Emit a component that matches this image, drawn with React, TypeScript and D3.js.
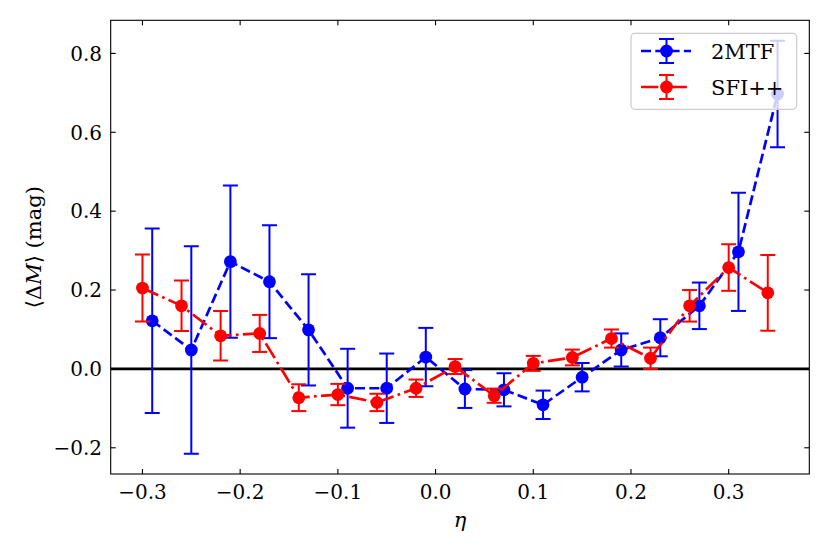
import * as d3 from "d3";
import React from "react";

// 2MTF sample
const eta2MTF = [-0.29, -0.25, -0.21, -0.17, -0.13, -0.09, -0.05, -0.01, 0.03, 0.07, 0.11, 0.15, 0.19, 0.23, 0.27, 0.31, 0.35];
const dM2MTF = [0.122, 0.048, 0.272, 0.221, 0.099, -0.049, -0.049, 0.03, -0.051, -0.053, -0.091, -0.021, 0.048, 0.079, 0.16, 0.297, 0.697];
const err2MTF = [0.234, 0.263, 0.193, 0.143, 0.141, 0.1, 0.088, 0.074, 0.048, 0.042, 0.036, 0.036, 0.042, 0.047, 0.059, 0.15, 0.135];

// SFI++ sample
const etaSFI = [-0.3, -0.26, -0.22, -0.18, -0.14, -0.1, -0.06, -0.02, 0.02, 0.06, 0.1, 0.14, 0.18, 0.22, 0.26, 0.3, 0.34];
const dMSFI = [0.205, 0.16, 0.084, 0.09, -0.073, -0.065, -0.085, -0.049, 0.006, -0.068, 0.014, 0.029, 0.077, 0.027, 0.16, 0.257, 0.193];
const errSFI = [0.085, 0.064, 0.063, 0.047, 0.034, 0.027, 0.022, 0.022, 0.019, 0.018, 0.019, 0.02, 0.023, 0.027, 0.04, 0.059, 0.096];

const xTicks = [-0.3, -0.2, -0.1, 0.0, 0.1, 0.2, 0.3];
const yTicks = [-0.2, 0.0, 0.2, 0.4, 0.6, 0.8];

const W = 830, H = 554;
const margin = { left: 110.7, right: 809.3, top: 20.3, bottom: 474 };
const font = "'DejaVu Serif', serif";

const fmt = (v: number) => {
    const s = Math.abs(v).toFixed(1);
    return v < -1e-9 ? "\u2212" + s : s;
};

interface SeriesProps {
    eta: number[];
    dm: number[];
    err: number[];
    color: string;
    dash: string;
    x: d3.ScaleLinear<number, number>;
    y: d3.ScaleLinear<number, number>;
}

function Series({ eta, dm, err, color, dash, x, y }: SeriesProps) {
    const line = d3.line<number>().x((_, i) => x(eta[i])).y(d => y(d));
    return (
        <g>
            {eta.map((e, i) => {
                const cx = x(e);
                const y1 = y(dm[i] + err[i]), y2 = y(dm[i] - err[i]);
                return (
                    <g key={i} stroke={color} strokeWidth={2}>
                        <line x1={cx} x2={cx} y1={y1} y2={y2} />
                        <line x1={cx - 7.5} x2={cx + 7.5} y1={y1} y2={y1} />
                        <line x1={cx - 7.5} x2={cx + 7.5} y1={y2} y2={y2} />
                    </g>
                );
            })}
            <path d={line(dm) || ""} fill="none" stroke={color} strokeWidth={2.7} strokeDasharray={dash} />
            {eta.map((e, i) => (
                <circle key={i} cx={x(e)} cy={y(dm[i])} r={6.4} fill={color} />
            ))}
        </g>
    );
}

export default function App() {
    const x = d3.scaleLinear().domain([-0.3325, 0.3825]).range([margin.left, margin.right]);
    const y = d3.scaleLinear().domain([-0.2665, 0.884]).range([margin.bottom, margin.top]);

    const blueDash = "10,4.3";
    const redDash = "17.3,4.3,2.7,4.3";

    const legendItems = [
        { label: "2MTF", color: "#0000ff", dash: blueDash, cy: 51 },
        { label: "SFI++", color: "#ff0000", dash: redDash, cy: 87 },
    ];

    const tickStyle = { fontFamily: font, fontSize: "20px" };
    const labelStyle = { fontFamily: font, fontSize: "21px" };
    const legendStyle = { fontFamily: font, fontSize: "21px" };

    return (
        <svg width={W} height={H} style={{ position: "absolute", left: 0, top: 0, background: "#fff" }}>
            <defs>
                <clipPath id="plotArea">
                    <rect x={margin.left} y={margin.top} width={margin.right - margin.left} height={margin.bottom - margin.top} />
                </clipPath>
            </defs>

            <g clipPath="url(#plotArea)">
                <line x1={margin.left} x2={margin.right} y1={y(0)} y2={y(0)} stroke="#000" strokeWidth={2.7} />
                <Series eta={eta2MTF} dm={dM2MTF} err={err2MTF} color="#0000ff" dash={blueDash} x={x} y={y} />
                <Series eta={etaSFI} dm={dMSFI} err={errSFI} color="#ff0000" dash={redDash} x={x} y={y} />
            </g>

            {/* frame */}
            <rect x={margin.left} y={margin.top} width={margin.right - margin.left} height={margin.bottom - margin.top}
                fill="none" stroke="#000" strokeWidth={1.1} />

            {/* x ticks */}
            {xTicks.map(t => (
                <g key={"x" + t}>
                    <line x1={x(t)} x2={x(t)} y1={margin.bottom} y2={margin.bottom - 5} stroke="#000" strokeWidth={1.1} />
                    <line x1={x(t)} x2={x(t)} y1={margin.top} y2={margin.top + 5} stroke="#000" strokeWidth={1.1} />
                    <text x={x(t)} y={margin.bottom + 25} style={tickStyle} textAnchor="middle">{fmt(t)}</text>
                </g>
            ))}

            {/* y ticks */}
            {yTicks.map(t => (
                <g key={"y" + t}>
                    <line x1={margin.left} x2={margin.left + 5} y1={y(t)} y2={y(t)} stroke="#000" strokeWidth={1.1} />
                    <line x1={margin.right} x2={margin.right - 5} y1={y(t)} y2={y(t)} stroke="#000" strokeWidth={1.1} />
                    <text x={102} y={y(t) + 7.3} style={tickStyle} textAnchor="end">{fmt(t)}</text>
                </g>
            ))}

            {/* axis labels */}
            <text x={(margin.left + margin.right) / 2} y={527} style={labelStyle} fontStyle="italic" textAnchor="middle">η</text>
            <text transform={`translate(41,${(margin.top + margin.bottom) / 2}) rotate(-90)`} style={labelStyle} textAnchor="middle">
                ⟨Δ<tspan fontStyle="italic">M</tspan>⟩ (mag)
            </text>

            {/* legend */}
            <g>
                <rect x={631} y={33.3} width={165.7} height={76} rx={4} fill="#fff" fillOpacity={0.8} stroke="#cccccc" strokeWidth={1.2} />
                {legendItems.map(it => (
                    <g key={it.label}>
                        <line x1={641} x2={691} y1={it.cy} y2={it.cy} stroke={it.color} strokeWidth={2.7} strokeDasharray={it.dash} />
                        <g stroke={it.color} strokeWidth={2}>
                            <line x1={666.5} x2={666.5} y1={it.cy - 12} y2={it.cy + 12} />
                            <line x1={659} x2={674} y1={it.cy - 12} y2={it.cy - 12} />
                            <line x1={659} x2={674} y1={it.cy + 12} y2={it.cy + 12} />
                        </g>
                        <circle cx={666.5} cy={it.cy} r={6.4} fill={it.color} />
                        <text x={711} y={it.cy + 7.5} style={legendStyle}>{it.label}</text>
                    </g>
                ))}
            </g>
        </svg>
    );
}
